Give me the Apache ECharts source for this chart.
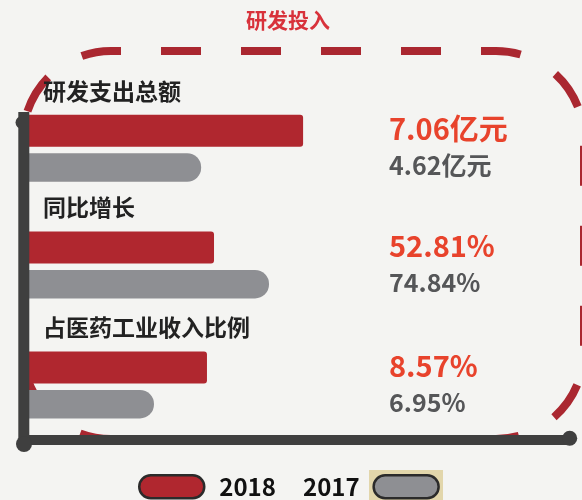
<!DOCTYPE html>
<html>
<head>
<meta charset="utf-8">
<title>研发投入</title>
<script src="https://cdn.jsdelivr.net/npm/echarts@6/dist/echarts.min.js"></script>
<style>
  html, body { margin: 0; padding: 0; background: #f4f4f2; }
  #chart { width: 582px; height: 500px; }
</style>
</head>
<body>
<div id="chart"></div>
<script>
  // 指标名称
  const categories = ['研发支出总额', '同比增长', '占医药工业收入比例']
  const years = ['2018', '2017']
  // 数值
  const values2018 = [7.06, 52.81, 8.57]
  const values2017 = [4.62, 74.84, 6.95]
  const units = ['亿元', '%', '%']

  // 每个指标单独一根x轴，起止值按图上条形长度取
  const axisMin = [0.5, -21.3, 3.13]
  const axisMax = [7.68, 98.87, 12.3]
  const gridTops = [108.3, 225, 345]

  const font = 'Noto Sans CJK SC'
  const red = '#b0272f'
  const gray = '#8e8f93'
  const axisColor = '#3f3f3f'

  const chart = echarts.init(document.getElementById('chart'), null, {renderer: 'canvas'})

  const grids = []
  const xAxes = []
  const yAxes = []
  const series = []
  const texts = []

  categories.forEach(function (name, i) {
    grids.push({left: 29, top: gridTops[i], width: 300, height: 80})
    xAxes.push({
      type: 'value',
      gridIndex: i,
      min: axisMin[i],
      max: axisMax[i],
      startValue: axisMin[i],
      show: false
    })
    yAxes.push({type: 'category', gridIndex: i, data: [name], show: false})

    series.push({
      name: years[0],
      type: 'bar',
      xAxisIndex: i,
      yAxisIndex: i,
      barWidth: 32,
      barGap: '20%',
      clip: true,
      silent: true,
      itemStyle: {color: red, borderRadius: [0, 3, 3, 0]},
      data: [values2018[i]]
    })
    series.push({
      name: years[1],
      type: 'bar',
      xAxisIndex: i,
      yAxisIndex: i,
      barWidth: 28.5,
      barGap: '20%',
      clip: true,
      silent: true,
      itemStyle: {color: gray, borderRadius: [0, 14, 14, 0]},
      data: [values2017[i]]
    })

    // 指标名
    texts.push({
      type: 'text',
      z: 5,
      x: 43,
      y: gridTops[i] - 17.5,
      style: {
        text: name,
        font: 'bold 23px "' + font + '"',
        fill: '#222222',
        verticalAlign: 'middle'
      }
    })
    // 右侧数值
    texts.push({
      type: 'text',
      z: 5,
      x: 389,
      y: gridTops[i] + 20.5,
      style: {
        text: values2018[i].toFixed(2) + units[i],
        font: 'bold 29px "' + font + '"',
        fill: '#e8432c',
        verticalAlign: 'middle'
      }
    })
    texts.push({
      type: 'text',
      z: 5,
      x: 389,
      y: gridTops[i] + 57,
      style: {
        text: values2017[i].toFixed(2) + units[i],
        font: 'bold 25px "' + font + '"',
        fill: '#555658',
        verticalAlign: 'middle'
      }
    })
  })

  // 虚线圆角框：分段画，让虚线在左上角连续
  function dashedFrame(x, y, w, h, r) {
    const half = Math.PI / 2
    const arcLen = half * r
    const style = {fill: null, stroke: '#aa2730', lineWidth: 8, lineDash: [40, 40]}
    const parts = [
      {type: 'line', len: w - 2 * r, shape: {x1: x + r, y1: y, x2: x + w - r, y2: y}},
      {type: 'arc', len: arcLen, shape: {cx: x + w - r, cy: y + r, r: r, startAngle: -half, endAngle: 0, clockwise: true}},
      {type: 'line', len: h - 2 * r, shape: {x1: x + w, y1: y + r, x2: x + w, y2: y + h - r}},
      {type: 'arc', len: arcLen, shape: {cx: x + w - r, cy: y + h - r, r: r, startAngle: 0, endAngle: half, clockwise: true}},
      {type: 'line', len: w - 2 * r, shape: {x1: x + w - r, y1: y + h, x2: x + r, y2: y + h}},
      {type: 'arc', len: arcLen, shape: {cx: x + r, cy: y + h - r, r: r, startAngle: half, endAngle: Math.PI, clockwise: true}},
      {type: 'line', len: h - 2 * r, shape: {x1: x, y1: y + h - r, x2: x, y2: y + r}}
    ]
    let pos = 30
    const els = parts.map(function (p) {
      const el = {type: p.type, z: 0, silent: true, shape: p.shape, style: Object.assign({lineDashOffset: pos % 80}, style)}
      pos += p.len
      return el
    })
    // 左上角圆弧，接在上边虚线之前
    els.push({
      type: 'arc',
      z: 0,
      silent: true,
      shape: {cx: x + r, cy: y + r, r: r, startAngle: Math.PI, endAngle: Math.PI + half, clockwise: true},
      style: Object.assign({lineDashOffset: ((30 - arcLen) % 80 + 80) % 80}, style)
    })
    return els
  }

  const pill = 'path://M11.5,0H53.5A11.5,11.5,0,0,1,53.5,23H11.5A11.5,11.5,0,0,1,11.5,0Z'

  chart.setOption({
    backgroundColor: '#f4f4f2',
    animation: false,
    title: {
      text: '研发投入',
      left: 246,
      top: 10,
      padding: 0,
      textStyle: {
        fontFamily: font,
        fontSize: 21,
        fontWeight: 'bold',
        color: '#d8323b'
      }
    },
    legend: [
      {
        data: [years[0]],
        left: 138,
        top: 474,
        padding: 0,
        icon: pill,
        itemWidth: 65,
        itemHeight: 23,
        itemStyle: {borderColor: '#2b2b2b', borderWidth: 2.5},
        textStyle: {fontFamily: font, fontSize: 24, fontWeight: 'bold', color: '#111111', padding: [0, 0, 0, 10]}
      },
      {
        data: [years[1]],
        align: 'right',
        left: 303,
        top: 474,
        padding: 0,
        icon: pill,
        itemWidth: 65,
        itemHeight: 23,
        itemStyle: {borderColor: '#2b2b2b', borderWidth: 2.5},
        textStyle: {fontFamily: font, fontSize: 24, fontWeight: 'bold', color: '#111111', padding: [0, 9, 0, 0]}
      }
    ],
    grid: grids,
    xAxis: xAxes,
    yAxis: yAxes,
    series: series,
    graphic: {
      elements: dashedFrame(23, 51, 561, 388, 88).concat([
        // 坐标轴
        {type: 'circle', z: 6, shape: {cx: 22, cy: 122.5, r: 6.5}, style: {fill: axisColor}},
        {type: 'line', z: 6, shape: {x1: 23.8, y1: 112, x2: 23.8, y2: 444}, style: {stroke: axisColor, lineWidth: 11}},
        {type: 'line', z: 6, shape: {x1: 24, y1: 440, x2: 570, y2: 440}, style: {stroke: axisColor, lineWidth: 10}},
        {type: 'circle', z: 6, shape: {cx: 24, cy: 444, r: 8}, style: {fill: axisColor}},
        {type: 'circle', z: 6, shape: {cx: 569.7, cy: 438.3, r: 7.5}, style: {fill: axisColor}},
        // 2017 图例底色
        {type: 'rect', z: 0, shape: {x: 369, y: 470, width: 74, height: 30}, style: {fill: '#e2d6ab'}}
      ]).concat(texts)
    }
  })
</script>
</body>
</html>
